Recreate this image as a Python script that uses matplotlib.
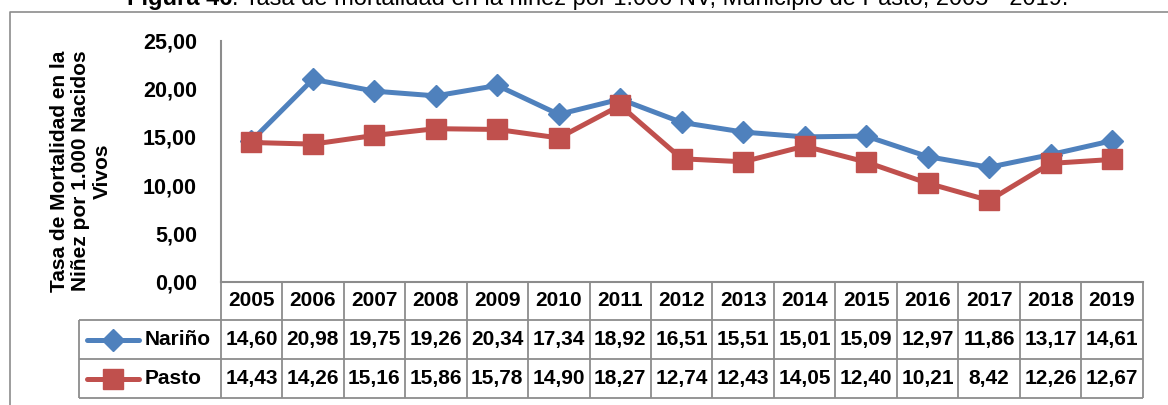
import matplotlib
matplotlib.use("Agg")
import matplotlib.pyplot as plt
import matplotlib.transforms as mtransforms

plt.rcParams['font.family'] = ['Liberation Sans', 'DejaVu Sans']

years = ['2005', '2006', '2007', '2008', '2009', '2010', '2011', '2012',
         '2013', '2014', '2015', '2016', '2017', '2018', '2019']
narino = [14.60, 20.98, 19.75, 19.26, 20.34, 17.34, 18.92, 16.51,
          15.51, 15.01, 15.09, 12.97, 11.86, 13.17, 14.61]
pasto = [14.43, 14.26, 15.16, 15.86, 15.78, 14.90, 18.27, 12.74,
         12.43, 14.05, 12.40, 10.21, 8.42, 12.26, 12.67]
yticks = [0, 5, 10, 15, 20, 25]

titulo_num = 'Figura 46'
titulo_txt = '. Tasa de mortalidad en la niñez por 1.000 NV, Municipio de Pasto, 2005 - 2019.'
ylabel = 'Tasa de Mortalidad en la\nNiñez por 1.000 Nacidos\nVivos'

AZUL = '#4F81BD'
ROJO = '#C0504D'
GRIS = '#8C8C8C'
W, H = 1168, 405
FS = 15

fig = plt.figure(figsize=(W / 100, H / 100), dpi=100)

# capa en pixeles para marco, tabla y textos
lay = fig.add_axes([0, 0, 1, 1])
lay.set_xlim(0, W)
lay.set_ylim(H, 0)
lay.axis('off')

# area del grafico (pixeles -> fraccion)
x0, x1 = 220.7, 1142.7
ytop, ybot = 40.5, 281.7
ax = fig.add_axes([x0 / W, 1 - ybot / H, (x1 - x0) / W, (ybot - ytop) / H])
ax.set_facecolor('none')

xs = [i + 0.5 for i in range(len(years))]
ax.plot(xs, narino, color=AZUL, lw=3.6, marker='D', ms=11, zorder=3,
        solid_joinstyle='round')
ax.plot(xs, pasto, color=ROJO, lw=3.6, marker='s', ms=14, zorder=4,
        solid_joinstyle='round')

ax.set_xlim(0, len(years))
ax.set_ylim(0, 25)
ax.set_yticks(yticks)
ax.set_yticklabels([f'{v:.2f}'.replace('.', ',') for v in yticks],
                   fontsize=15.5, fontweight='bold')
ax.tick_params(axis='y', length=0, pad=17)
ax.set_xticks([])
for s in ['top', 'right']:
    ax.spines[s].set_visible(False)
for s in ['left', 'bottom']:
    ax.spines[s].set_color(GRIS)
    ax.spines[s].set_linewidth(1.5)

# marco exterior
lay.plot([10, 10, W + 5], [H + 5, 11.5, 11.5], color=GRIS, lw=1.2, clip_on=False)

# tabla de datos
colw = (x1 - x0) / len(years)
r0, r1, r2, r3 = 281.7, 320, 359, 398
xl = 79.3
lc = dict(color=GRIS, lw=1.3, solid_capstyle='butt')
for y in (r1, r2, r3):
    lay.plot([xl, x1], [y, y], **lc)
for i in range(len(years) + 1):
    xv = x0 + i * colw
    lay.plot([xv, xv], [r0, r3], **lc)
lay.plot([xl, xl], [r1, r3], **lc)

tcol = mtransforms.blended_transform_factory(ax.transData, lay.transData)
for x, yr, n, p in zip(xs, years, narino, pasto):
    lay.text(x, (r0 + r1) / 2, yr, transform=tcol, ha='center', va='center',
             fontsize=FS, fontweight='bold')
    lay.text(x, (r1 + r2) / 2, f'{n:.2f}'.replace('.', ','), transform=tcol,
             ha='center', va='center', fontsize=FS, fontweight='bold')
    lay.text(x, (r2 + r3) / 2, f'{p:.2f}'.replace('.', ','), transform=tcol,
             ha='center', va='center', fontsize=FS, fontweight='bold')

# leyenda dentro de la tabla
for yc, col, mk, ms, name in [((r1 + r2) / 2, AZUL, 'D', 11, 'Nariño'),
                              ((r2 + r3) / 2, ROJO, 's', 14, 'Pasto')]:
    lay.plot([87, 139], [yc, yc], color=col, lw=3.6, solid_capstyle='round')
    lay.plot([113], [yc], color=col, marker=mk, ms=ms)
    lay.text(145, yc, name, ha='left', va='center', fontsize=FS,
             fontweight='bold')

# titulo del eje
lay.text(81, 171, ylabel, rotation=90, ha='center', va='center',
         multialignment='center', fontsize=FS, fontweight='bold',
         linespacing=1.15)

# titulo de la figura (cortado arriba)
r = fig.canvas.get_renderer()
t1 = lay.text(0, 5, titulo_num, ha='left', va='baseline', fontsize=17,
              fontweight='bold')
t2 = lay.text(0, 5, titulo_txt, ha='left', va='baseline', fontsize=17)
w1 = t1.get_window_extent(r).width
w2 = t2.get_window_extent(r).width
start = 598 - (w1 + w2) / 2
t1.set_x(start)
t2.set_x(start + w1)

fig.savefig('out.png', dpi=100)
